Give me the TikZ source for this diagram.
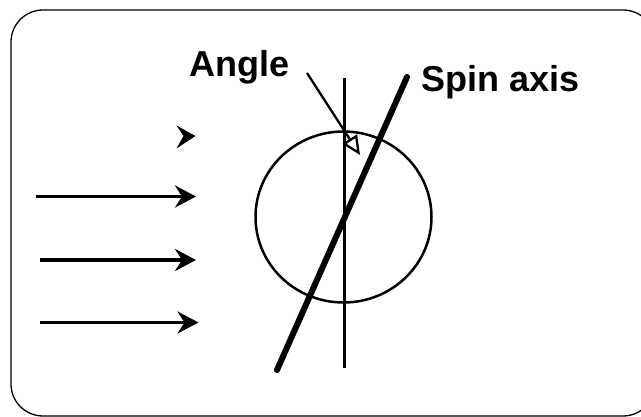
\documentclass[tikz,border=0pt]{standalone}
\usepackage{fontspec}
\setmainfont{Liberation Sans}
\usetikzlibrary{arrows.meta}
\begin{document}
\begin{tikzpicture}[x=1pt,y=-1pt,
  flow/.style={line width=3.5pt,-{Stealth[length=21pt,width=22pt,inset=7pt]}},
  lbl/.style={font=\fontsize{36}{43}\selectfont\bfseries, inner sep=0pt, anchor=base}]
\useasboundingbox (0,0) rectangle (641,417);
\clip (0,0) rectangle (641,417);
% frame
\draw[line width=1.3pt, rounded corners=32pt] (11,10) rectangle (655,416);
% ball
\draw[line width=2.5pt] (343.5,217) ellipse [x radius=88, y radius=85.5];
% vertical reference line
\coordinate (vtop) at (344.5,78);
\coordinate (vbot) at (344.5,368);
\draw[line width=2.3pt] (vtop) -- (vbot);
% spin axis
\coordinate (stop) at (407,77);
\coordinate (sbot) at (277,370);
\draw[line width=6pt, line cap=round] (sbot) -- (stop);
% incoming flow arrows
\coordinate (h0) at (195.5,136);
\fill (176.5,125.5) -- (h0) -- (176.5,148.5) -- (183.5,136) -- cycle;
\coordinate (a1s) at (36,196.5);  \coordinate (a1e) at (196,196.5);
\coordinate (a2s) at (40,260);    \coordinate (a2e) at (196,260);
\coordinate (a3s) at (40,322.5);  \coordinate (a3e) at (198.5,322.5);
\draw[flow] (a1s) -- (a1e);
\draw[flow] (a2s) -- (a2e);
\draw[flow] (a3s) -- (a3e);
% labels
\node[lbl] (angle) at (239.5,77) {Angle};
\node[lbl] (spin) at (501,92) {Spin axis};
% angle pointer
\coordinate (ps) at (307,73);
\coordinate (pe) at (360,155);
\draw[line width=2.3pt,-{Triangle[open,length=19pt,width=17pt,line width=2.3pt]}] (ps) -- (pe);
\end{tikzpicture}
\end{document}
